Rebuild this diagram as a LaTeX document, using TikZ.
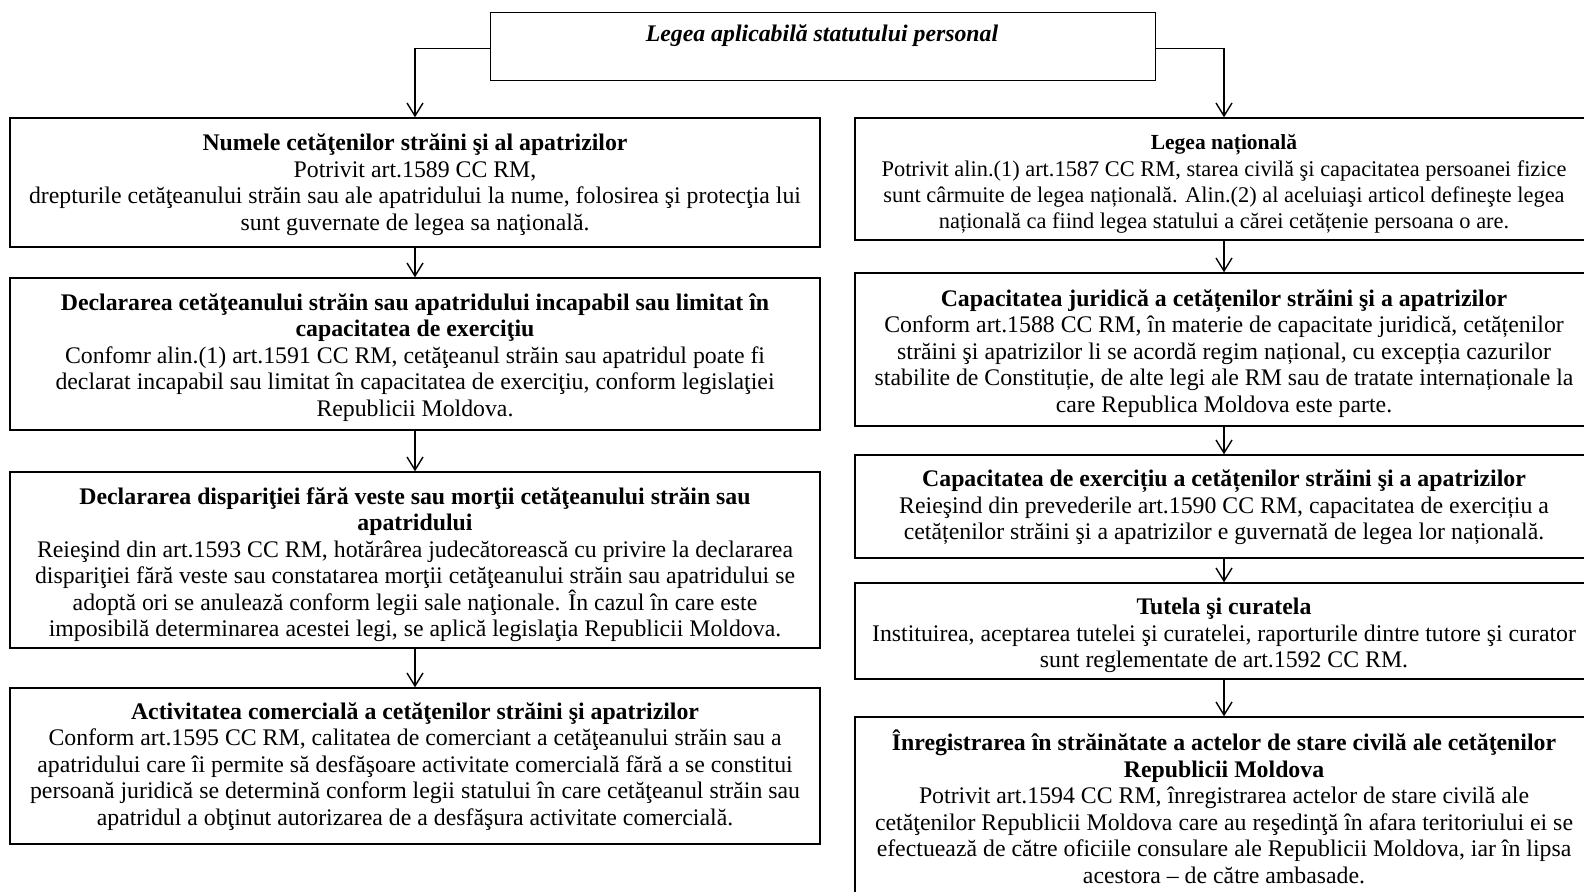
\documentclass[tikz,border=0pt]{standalone}
\usepackage{fontspec}
\setmainfont{Liberation Serif}
\usetikzlibrary{arrows.meta}
\begin{document}
\begin{tikzpicture}[x=1pt,y=-1pt,
  boxstyle/.style={draw=black, line width=1.4pt, rectangle, inner sep=0pt},
  txt/.style={align=center, inner sep=0pt, font=\fontsize{23.8}{26.5}\selectfont},
  conn/.style={line width=1.4pt, -{Straight Barb[length=13pt,width=16pt,line width=1.4pt]}}
]
\clip (0,0) rectangle (1584,891);
\fill[white] (0,0) rectangle (1584,891);
% top box
\node[boxstyle, minimum width=665pt, minimum height=68pt, anchor=north west] (top) at (490,12) {};
\node[txt, font=\fontsize{23.8}{26.5}\selectfont\itshape\bfseries] (toptxt) at (822,35.7) {Legea aplicabilă statutului personal};
% left column
\node[boxstyle, minimum width=810pt, minimum height=129pt] (L1) at (415,182.5) {};
\node[txt] (L1t) at (415,184.5) {\textbf{Numele cetăţenilor străini şi al apatrizilor}\\ Potrivit art.1589 CC RM,\\ drepturile cetăţeanului străin sau ale apatridului la nume, folosirea şi protecţia lui\\ sunt guvernate de legea sa naţională.};
\node[boxstyle, minimum width=810pt, minimum height=152pt] (L2) at (415,354) {};
\node[txt] (L2t) at (415,357.3) {\textbf{Declararea cetăţeanului străin sau apatridului incapabil sau limitat în}\\ \textbf{capacitatea de exerciţiu}\\ Confomr alin.(1) art.1591 CC RM, cetăţeanul străin sau apatridul poate fi\\ declarat incapabil sau limitat în capacitatea de exerciţiu, conform legislaţiei\\ Republicii Moldova.};
\node[boxstyle, minimum width=810pt, minimum height=176pt] (L3) at (415,560) {};
\node[txt] (L3t) at (415,564.8) {\textbf{Declararea dispariţiei fără veste sau morţii cetăţeanului străin sau}\\ \textbf{apatridului}\\ Reieşind din art.1593 CC RM, hotărârea judecătorească cu privire la declararea\\ dispariţiei fără veste sau constatarea morţii cetăţeanului străin sau apatridului se\\ adoptă ori se anulează conform legii sale naţionale. În cazul în care este\\ imposibilă determinarea acestei legi, se aplică legislaţia Republicii Moldova.};
\node[boxstyle, minimum width=810pt, minimum height=156pt] (L4) at (415,766) {};
\node[txt] (L4t) at (415,766.3) {\textbf{Activitatea comercială a cetăţenilor străini şi apatrizilor}\\ Conform art.1595 CC RM, calitatea de comerciant a cetăţeanului străin sau a\\ apatridului care îi permite să desfăşoare activitate comercială fără a se constitui\\ persoană juridică se determină conform legii statului în care cetăţeanul străin sau\\ apatridul a obţinut autorizarea de a desfăşura activitate comercială.};
% right column
\node[boxstyle, minimum width=738pt, minimum height=122pt] (R1) at (1224,179) {};
\node[txt, font=\fontsize{22.4}{26.3}\selectfont] (R1t) at (1224,184) {{\fontsize{21.5}{26.3}\selectfont\textbf{Legea națională}}\\ Potrivit alin.(1) art.1587 CC RM, starea civilă şi capacitatea persoanei fizice\\ sunt cârmuite de legea națională. Alin.(2) al aceluiaşi articol defineşte legea\\ națională ca fiind legea statului a cărei cetățenie persoana o are.};
\node[boxstyle, minimum width=738pt, minimum height=153pt] (R2) at (1224,349.5) {};
\node[txt] (R2t) at (1224,353.3) {\textbf{Capacitatea juridică a cetățenilor străini şi a apatrizilor}\\ Conform art.1588 CC RM, în materie de capacitate juridică, cetățenilor\\ străini şi apatrizilor li se acordă regim național, cu excepția cazurilor\\ stabilite de Constituție, de alte legi ale RM sau de tratate internaționale la\\ care Republica Moldova este parte.};
\node[boxstyle, minimum width=738pt, minimum height=103pt] (R3) at (1224,506.5) {};
\node[txt] (R3t) at (1224,507.3) {\textbf{Capacitatea de exercițiu a cetățenilor străini şi a apatrizilor}\\ Reieşind din prevederile art.1590 CC RM, capacitatea de exercițiu a\\ cetățenilor străini şi a apatrizilor e guvernată de legea lor națională.};
\node[boxstyle, minimum width=738pt, minimum height=96pt] (R4) at (1224,631) {};
\node[txt] (R4t) at (1224,635.8) {\textbf{Tutela şi curatela}\\ Instituirea, aceptarea tutelei şi curatelei, raporturile dintre tutore şi curator\\ sunt reglementate de art.1592 CC RM.};
\node[boxstyle, minimum width=738pt, minimum height=186pt] (R5) at (1224,810) {};
\node[txt] (R5t) at (1224,806.8) {\textbf{Înregistrarea în străinătate a actelor de stare civilă ale cetăţenilor}\\ \textbf{Republicii Moldova}\\ Potrivit art.1594 CC RM, înregistrarea actelor de stare civilă ale\\ cetăţenilor Republicii Moldova care au reşedinţă în afara teritoriului ei se\\ efectuează de către oficiile consulare ale Republicii Moldova, iar în lipsa\\ acestora – de către ambasade.};
% connectors
\coordinate (tl) at ([yshift=-2pt]top.west);
\coordinate (tr) at ([yshift=-2pt]top.east);
\draw[conn] (tl) -| (L1.north);
\draw[conn] (tr) -| (R1.north);
\draw[conn] (L1.south) -- (L2.north);
\draw[conn] (L2.south) -- (L3.north);
\draw[conn] (L3.south) -- (L4.north);
\draw[conn] (R1.south) -- (R2.north);
\draw[conn] (R2.south) -- (R3.north);
\draw[conn] (R3.south) -- (R4.north);
\draw[conn] (R4.south) -- (R5.north);
\end{tikzpicture}
\end{document}
